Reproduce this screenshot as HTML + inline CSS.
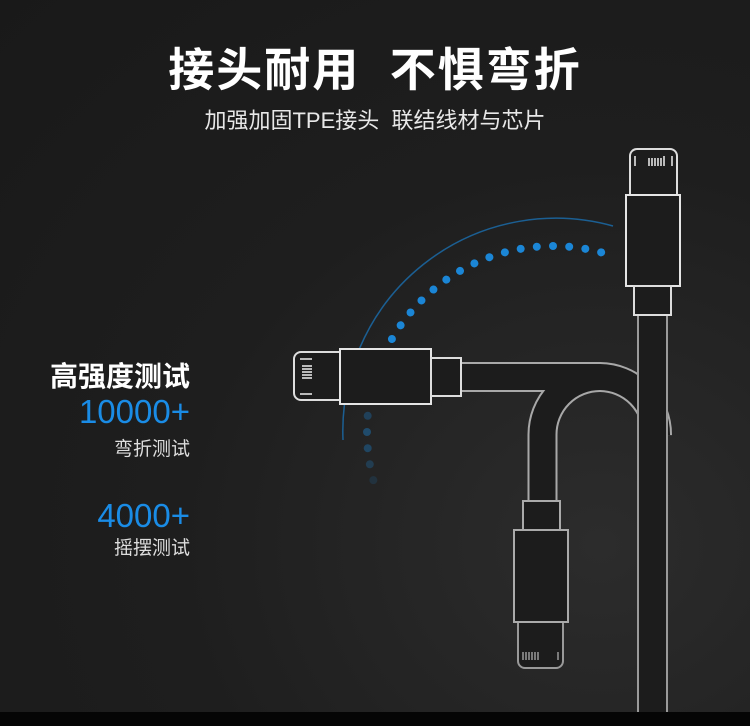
<!DOCTYPE html>
<html><head><meta charset="utf-8"><style>
body{margin:0}
#c{position:relative;width:750px;height:726px;overflow:hidden;background:radial-gradient(ellipse at 80% 75%,#2c2c2c 0%,#1e1e1e 50%,#191919 100%);font-family:"Liberation Sans","Noto Sans CJK SC",sans-serif;color:#fff}
.t{position:absolute;white-space:nowrap}
.r{right:560px;text-align:right}
</style></head><body><div id="c">
<svg width="750" height="726" style="position:absolute;left:0;top:0">
<path d="M343 440 A213 213 0 0 1 613 226" fill="none" stroke="#1a6fb0" stroke-width="1.5" opacity="0.8"/>
<g fill="#1b86d6">
<circle cx="553" cy="246" r="4" transform="rotate(15 553 432)"/>
<circle cx="553" cy="246" r="4" transform="rotate(10 553 432)"/>
<circle cx="553" cy="246" r="4" transform="rotate(5 553 432)"/>
<circle cx="553" cy="246" r="4" transform="rotate(0 553 432)"/>
<circle cx="553" cy="246" r="4" transform="rotate(-5 553 432)"/>
<circle cx="553" cy="246" r="4" transform="rotate(-10 553 432)"/>
<circle cx="553" cy="246" r="4" transform="rotate(-15 553 432)"/>
<circle cx="553" cy="246" r="4" transform="rotate(-20 553 432)"/>
<circle cx="553" cy="246" r="4" transform="rotate(-25 553 432)"/>
<circle cx="553" cy="246" r="4" transform="rotate(-30 553 432)"/>
<circle cx="553" cy="246" r="4" transform="rotate(-35 553 432)"/>
<circle cx="553" cy="246" r="4" transform="rotate(-40 553 432)"/>
<circle cx="553" cy="246" r="4" transform="rotate(-45 553 432)"/>
<circle cx="553" cy="246" r="4" transform="rotate(-50 553 432)"/>
<circle cx="553" cy="246" r="4" transform="rotate(-55 553 432)"/>
<circle cx="553" cy="246" r="4" transform="rotate(-60 553 432)"/>
<circle cx="553" cy="246" r="4" transform="rotate(-65 553 432)" opacity="0.8"/>
<circle cx="553" cy="246" r="4" transform="rotate(-70 553 432)" opacity="0.5"/>
<circle cx="553" cy="246" r="4" transform="rotate(-75 553 432)" opacity="0.3"/>
<circle cx="553" cy="246" r="4" transform="rotate(-80 553 432)" opacity="0.2"/>
<circle cx="553" cy="246" r="4" transform="rotate(-85 553 432)" opacity="0.3"/>
<circle cx="553" cy="246" r="4" transform="rotate(-90 553 432)" opacity="0.4"/>
<circle cx="553" cy="246" r="4" transform="rotate(-95 553 432)" opacity="0.35"/>
<circle cx="553" cy="246" r="4" transform="rotate(-100 553 432)" opacity="0.25"/>
<circle cx="553" cy="246" r="4" transform="rotate(-105 553 432)" opacity="0.15"/>
</g>
<g fill="none">
<path d="M461 377 L600 377 A57.5 57.5 0 0 1 657 435 M600 377 A57.5 57.5 0 0 0 542.5 435 L542.5 501" stroke="#a8a8a8" stroke-width="30"/>
<path d="M455 377 L600 377 A57.5 57.5 0 0 1 657 435 M600 377 A57.5 57.5 0 0 0 542.5 435 L542.5 505" stroke="#1c1c1c" stroke-width="26"/>
</g>
<g fill="#1c1c1c" stroke="#bdbdbd" stroke-width="2">
<rect x="638" y="313" width="29" height="410" stroke="#9a9a9a"/>
<rect x="630" y="149" width="47" height="56" rx="7" stroke="#ddd"/>
<rect x="626" y="195" width="54" height="91" stroke="#e5e5e5"/>
<rect x="634" y="286" width="37" height="29" stroke="#ddd"/>
<rect x="294" y="352" width="56" height="48" rx="7" stroke="#ddd"/>
<rect x="340" y="349" width="91" height="55" stroke="#e5e5e5"/>
<rect x="431" y="358" width="30" height="38" stroke="#ddd"/>
<rect x="518" y="612" width="45" height="56" rx="7" stroke="#999"/>
<rect x="523" y="501" width="37" height="29" stroke="#aaa"/>
<rect x="514" y="530" width="54" height="92" stroke="#aaa"/>
</g>
<g stroke="#eee" stroke-width="1.5">
<line x1="635" y1="156" x2="635" y2="166"/>
<line x1="649" y1="158" x2="649" y2="166"/><line x1="652" y1="158" x2="652" y2="166"/><line x1="655" y1="158" x2="655" y2="166"/><line x1="658" y1="158" x2="658" y2="166"/><line x1="661" y1="158" x2="661" y2="166"/><line x1="664" y1="156" x2="664" y2="166"/><line x1="672" y1="156" x2="672" y2="166"/>
<line x1="300" y1="359" x2="312" y2="359"/><line x1="302" y1="366" x2="312" y2="366"/><line x1="302" y1="369" x2="312" y2="369"/><line x1="302" y1="372" x2="312" y2="372"/><line x1="302" y1="375" x2="312" y2="375"/><line x1="302" y1="378" x2="312" y2="378"/><line x1="300" y1="394" x2="312" y2="394"/>
</g>
<g stroke="#999" stroke-width="1.5">
<line x1="523" y1="652" x2="523" y2="660"/><line x1="526" y1="652" x2="526" y2="660"/><line x1="529" y1="652" x2="529" y2="660"/><line x1="532" y1="652" x2="532" y2="660"/><line x1="535" y1="652" x2="535" y2="660"/><line x1="538" y1="652" x2="538" y2="660"/><line x1="558" y1="652" x2="558" y2="660"/>
</g>
<rect x="0" y="712" width="750" height="14" fill="#050505"/>
</svg>
<div class="t" style="left:0;width:750px;text-align:center;top:34px;font-size:46px;font-weight:bold;letter-spacing:2px">接头耐用&nbsp;&nbsp;不惧弯折</div>
<div class="t" style="left:0;width:750px;text-align:center;top:103px;font-size:22px;color:#e8e8e8">加强加固TPE接头&nbsp;&nbsp;联结线材与芯片</div>
<div class="t r" style="top:355px;font-size:28px;font-weight:bold">高强度测试</div>
<div class="t r" style="top:393px;font-size:33px;color:#1a8ce6">10000+</div>
<div class="t r" style="top:434px;font-size:19px;color:#ddd">弯折测试</div>
<div class="t r" style="top:497px;font-size:33px;color:#1a8ce6">4000+</div>
<div class="t r" style="top:533px;font-size:19px;color:#ddd">摇摆测试</div>
</div></body></html>
